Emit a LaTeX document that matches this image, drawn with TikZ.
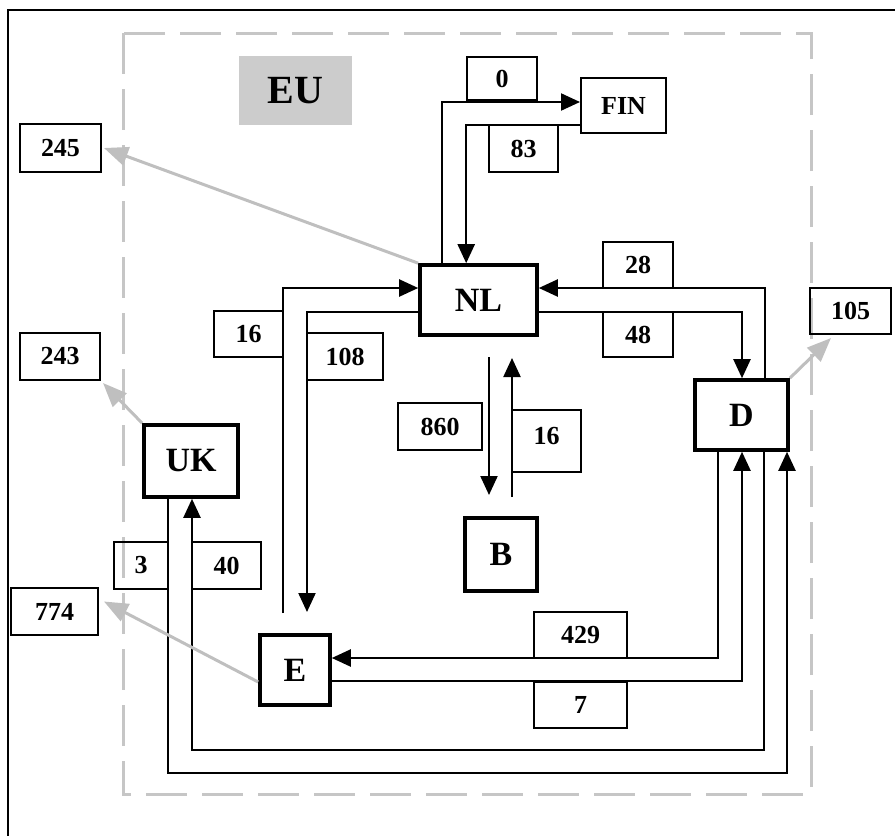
\documentclass[tikz,border=0pt]{standalone}
\usepackage{fontspec}
\setmainfont{Liberation Serif}
\usetikzlibrary{arrows.meta}
\begin{document}
\begin{tikzpicture}[x=1pt,y=-1pt,
  sz/.style 2 args={minimum width=#1pt, minimum height=#2pt},
  mainbox/.style={draw, line width=3.6pt, inner sep=0pt, font=\fontsize{34}{38}\selectfont\bfseries},
  numbox/.style={draw, line width=2pt, inner sep=0pt, font=\fontsize{26}{30}\selectfont\bfseries},
  flow/.style={line width=2.2pt, -{Triangle[length=19pt,width=17pt]}},
  grayarrow/.style={draw=gray!50, line width=3pt, -{Triangle[length=24pt,width=19pt]}}
]
\useasboundingbox (0,0) rectangle (895,836);
% frame
\draw[line width=2.4pt] (8,836) -- (8,10) -- (895,10);
% EU region
\draw[gray!45, line width=3pt, dash pattern=on 41pt off 15pt] (123,33) rectangle (811,794);
\node[fill=gray!40, sz={113}{69}, inner sep=0pt, font=\fontsize{40}{44}\selectfont\bfseries] (EU) at (295.5,90.5) {EU};

% main nodes
\node[mainbox, sz={117}{70}] (NL) at (478.5,300) {NL};
\node[mainbox, sz={93}{70}] (D) at (741.5,415) {D};
\node[mainbox, sz={94}{72}] (UK) at (191,461) {UK};
\node[mainbox, sz={72}{73}] (B) at (501,554.5) {B};
\node[mainbox, sz={70}{70}] (E) at (295,670) {E};
\node[numbox, sz={85}{55}] (FIN) at (623.5,105.5) {FIN};

% number boxes
\node[numbox, sz={70}{43}] (n0) at (502,78.5) {0};
\node[numbox, sz={69}{47}] (n83) at (523.5,148.5) {83};
\node[numbox, sz={70}{46}] (n28) at (638,265) {28};
\node[numbox, sz={70}{45}] (n48) at (638,334.5) {48};
\node[numbox, sz={69}{46}] (n16a) at (248.5,334) {16};
\node[numbox, sz={76}{47}] (n108) at (345,356.5) {108};
\node[numbox, sz={81}{48}] (n245) at (60.5,148) {245};
\node[numbox, sz={80}{47}] (n243) at (60,356.5) {243};
\node[numbox, sz={81}{46}] (n105) at (850.5,311) {105};
\node[numbox, sz={84}{47}] (n860) at (440,426.5) {860};
\node[numbox, sz={69}{62}, text depth=10pt] (n16b) at (546.5,441) {16};
\node[numbox, sz={54}{47}] (n3) at (141,565.5) {3};
\node[numbox, sz={69}{47}] (n40) at (226.5,565.5) {40};
\node[numbox, sz={87}{47}] (n774) at (54.5,611.5) {774};
\node[numbox, sz={93}{46}] (n429) at (580.5,635) {429};
\node[numbox, sz={93}{46}] (n7) at (580.5,705) {7};

% NL <-> FIN
\draw[flow] ([xshift=24pt]NL.north west) |- (FIN.west |- 0,102);
\draw[flow] (FIN.west |- 0,125) -| ([xshift=48pt]NL.north west);
% NL <-> D
\draw[flow] (NL.east |- 0,312) -| (D.north -| 742,0);
\draw[flow] (D.north -| 765,0) |- (NL.east |- 0,288);
% NL <-> E
\coordinate (e1) at (283,613);
\coordinate (e2) at (307,612);
\draw[flow] (e1) |- (NL.west |- 0,288);
\draw[flow] (NL.west |- 0,312) -| (e2);
% NL <-> B
\coordinate (b1) at (489,357);
\coordinate (b2) at (489,495);
\coordinate (b3) at (512,497);
\coordinate (b4) at (512,358);
\draw[flow] (b1) -- (b2);
\draw[flow] (b3) -- (b4);
% D <-> E
\draw[flow] (D.south -| 718,0) |- (E.east |- 0,658);
\draw[flow] (E.east |- 0,681) -| (D.south -| 742,0);
% D <-> UK
\draw[flow] (D.south -| 764,0) -- (764,750) -- (192,750) -- (UK.south -| 192,0);
\draw[flow] (UK.south -| 168,0) -- (168,773) -- (787,773) -- (D.south -| 787,0);

% gray outflows
\draw[grayarrow] (NL.north west) -- ([xshift=2pt]n245.east);
\draw[grayarrow] (UK.north west) -- ([xshift=2pt,yshift=-2pt]n243.south east);
\draw[grayarrow] (E.west |- 0,682) -- ([xshift=5pt,yshift=10pt]n774.east);
\draw[grayarrow] (D.north east) -- ([xshift=22pt,yshift=-3pt]n105.south west);
\end{tikzpicture}
\end{document}
